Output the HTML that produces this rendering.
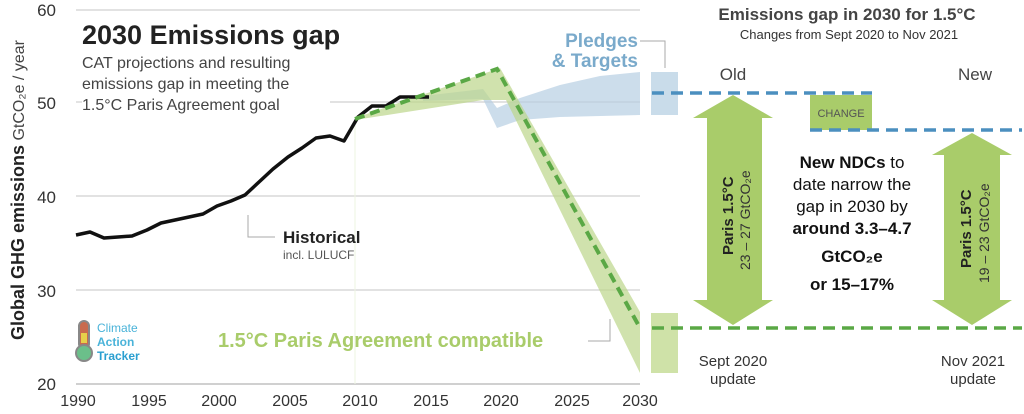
<!DOCTYPE html>
<html><head><meta charset="utf-8"><style>
html,body{margin:0;padding:0;background:#fff;}
svg{display:block;font-family:"Liberation Sans","DejaVu Sans",sans-serif;}
</style></head><body>
<svg width="1024" height="414" viewBox="0 0 1024 414" xmlns="http://www.w3.org/2000/svg">
<g stroke="#d0d0d0" stroke-width="1.2">
<line x1="76" y1="10" x2="640" y2="10"/>
<line x1="76" y1="102" x2="82" y2="102"/><line x1="330" y1="102" x2="640" y2="102"/>
<line x1="76" y1="196" x2="640" y2="196"/>
<line x1="76" y1="290" x2="640" y2="290"/>
<line x1="76" y1="384" x2="640" y2="384" stroke-width="2"/>
</g>
<g font-size="17" fill="#333" text-anchor="end">
<text x="56" y="16">60</text><text x="56" y="109">50</text><text x="56" y="203">40</text><text x="56" y="297">30</text><text x="56" y="390">20</text>
</g>
<g font-size="16" fill="#333" text-anchor="middle">
<text x="78" y="406">1990</text><text x="149" y="406">1995</text><text x="219" y="406">2000</text><text x="290" y="406">2005</text><text x="360" y="406">2010</text><text x="431" y="406">2015</text><text x="501" y="406">2020</text><text x="572" y="406">2025</text><text x="640" y="406">2030</text>
</g>
<text transform="translate(24,340) rotate(-90)" font-size="18" fill="#222"><tspan font-weight="bold">Global GHG emissions</tspan><tspan font-size="16" fill="#444">  GtCO₂e / year</tspan></text>
<text x="82" y="44" font-size="27" font-weight="bold" fill="#222">2030 Emissions gap</text>
<g font-size="16" fill="#444"><text x="82" y="68">CAT projections and resulting</text><text x="82" y="89">emissions gap in meeting the</text><text x="82" y="110">1.5°C Paris Agreement goal</text></g>
<!-- blue band -->
<polygon points="423,96 483,89 497,108 520,98 560,85 600,76 640,72 640,115 560,117 520,120 497,128 483,99 423,101" fill="#b7cfe2" opacity="0.7"/>
<!-- green band -->
<polygon points="355,118 500,68 640,312 640,373 506,100 483,100 355,120" fill="#bcd68a" opacity="0.7"/>
<line x1="355" y1="120" x2="355" y2="384" stroke="#eef4e2" stroke-width="1"/>
<!-- historical -->
<polyline fill="none" stroke="#111" stroke-width="3.5" stroke-linejoin="round" points="76,235 90,232 104,238 118,237 132,236 147,230 161,223 175,220 189,217 203,214 217,206 231,201 245,195 259,182 273,169 288,157 302,148 316,138 330,136 344,141 358,117 372,106 386,106 400,97 414,97 429,97"/>
<polyline fill="none" stroke="#5aa845" stroke-width="4" stroke-dasharray="10,6" points="355,119 497,69 640,328"/>
<rect x="651" y="72" width="27" height="43" fill="#c9dcea"/>
<rect x="651" y="313" width="27" height="60" fill="#cfe2a8"/>
<line x1="652" y1="93" x2="872" y2="93" stroke="#4b8fbf" stroke-width="3.5" stroke-dasharray="12,7"/>
<rect x="810" y="95" width="62" height="35" fill="#a9cc6a"/>
<text x="841" y="117" font-size="11" fill="#555" text-anchor="middle">CHANGE</text>
<line x1="810" y1="130" x2="1022" y2="130" stroke="#4b8fbf" stroke-width="3.5" stroke-dasharray="12,7"/>
<line x1="652" y1="328" x2="1022" y2="328" stroke="#5aa845" stroke-width="3.5" stroke-dasharray="12,7"/>
<polygon points="733,95 773,118 762,118 762,300 773,300 733,325 693,300 707,300 707,118 693,118" fill="#a9cc6a"/>
<polygon points="972,133 1012,155 1000,155 1000,300 1012,300 972,325 932,300 944,300 944,155 932,155" fill="#a9cc6a"/>
<text transform="translate(733,255) rotate(-90)" font-size="15" font-weight="bold" fill="#222">Paris 1.5°C</text>
<text transform="translate(750,270) rotate(-90)" font-size="14" fill="#333">23 – 27 GtCO₂e</text>
<text transform="translate(971,268) rotate(-90)" font-size="15" font-weight="bold" fill="#222">Paris 1.5°C</text>
<text transform="translate(989,283) rotate(-90)" font-size="14" fill="#333">19 – 23 GtCO₂e</text>
<text x="847" y="20" font-size="17" font-weight="bold" fill="#444" text-anchor="middle">Emissions gap in 2030 for 1.5°C</text>
<text x="849" y="39" font-size="13" fill="#333" text-anchor="middle">Changes from Sept 2020 to Nov 2021</text>
<text x="733" y="80" font-size="17" fill="#444" text-anchor="middle">Old</text>
<text x="975" y="80" font-size="17" fill="#444" text-anchor="middle">New</text>
<g font-size="17" fill="#111" text-anchor="middle">
<text x="852" y="168"><tspan font-weight="bold">New NDCs</tspan> to</text>
<text x="852" y="190">date narrow the</text>
<text x="852" y="212">gap in 2030 by</text>
<text x="852" y="234" font-weight="bold">around 3.3–4.7</text>
<text x="852" y="262" font-weight="bold">GtCO₂e</text>
<text x="852" y="290" font-weight="bold">or 15–17%</text>
</g>
<g font-size="15" fill="#333" text-anchor="middle">
<text x="733" y="366">Sept 2020</text><text x="733" y="384">update</text>
<text x="973" y="366">Nov 2021</text><text x="973" y="384">update</text>
</g>
<text x="638" y="47" font-size="19" font-weight="bold" fill="#7aaacb" text-anchor="end">Pledges</text>
<text x="638" y="67" font-size="19" font-weight="bold" fill="#7aaacb" text-anchor="end">&amp; Targets</text>
<polyline points="640,41 665,41 665,68" fill="none" stroke="#aaa" stroke-width="1"/>
<text x="218" y="347" font-size="20" font-weight="bold" fill="#a9cc6a">1.5°C Paris Agreement compatible</text>
<polyline points="588,341 610,341 610,319" fill="none" stroke="#aaa" stroke-width="1"/>
<text x="283" y="243" font-size="17" font-weight="bold" fill="#222">Historical</text>
<text x="283" y="259" font-size="12" fill="#555">incl. LULUCF</text>
<polyline points="248,215 248,237 275,237" fill="none" stroke="#aaa" stroke-width="1"/>
<rect x="79" y="321" width="10" height="28" rx="5" fill="#c96b4e" stroke="#888" stroke-width="2"/>
<rect x="81" y="333" width="6" height="10" fill="#e6d04a"/>
<circle cx="84" cy="353" r="8" fill="#6bbf8a" stroke="#888" stroke-width="2"/>
<text x="97" y="332" font-size="12" fill="#4ab3d9">Climate</text>
<text x="97" y="346" font-size="12" font-weight="bold" fill="#4ab3d9">Action</text>
<text x="97" y="360" font-size="12" font-weight="bold" fill="#2a9fd0">Tracker</text>
</svg>
</body></html>
